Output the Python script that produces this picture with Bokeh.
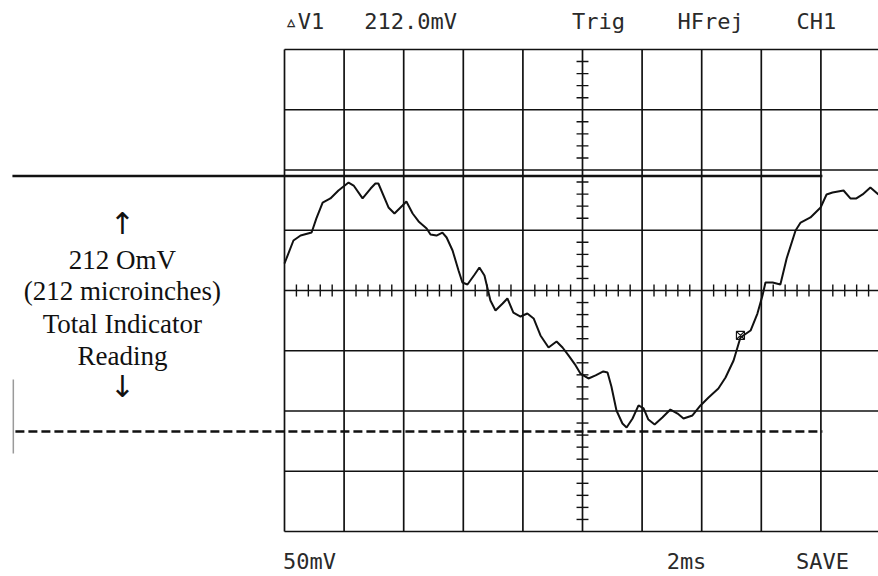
import numpy as np
from bokeh.plotting import figure
from bokeh.models import Range1d
from bokeh.core.properties import value
from bokeh.embed import file_html
from bokeh.resources import INLINE

# ---- data (time in ms relative to trigger, voltage in mV) ----
time_ms = [-10.0, -9.70, -9.46, -9.09, -8.93, -8.72, -8.46, -8.19, -7.85, -7.68,
           -7.38, -7.11, -6.95, -6.85, -6.51, -6.31, -6.04, -5.91, -5.70, -5.50,
           -5.23, -5.10, -4.90, -4.70, -4.56, -4.36, -4.16, -4.03, -3.86, -3.62,
           -3.46, -3.29, -3.09, -2.92, -2.68, -2.52, -2.32, -2.08, -1.85, -1.64,
           -1.41, -1.14, -0.87, -0.67, -0.47, -0.23, -0.07, 0.20, 0.44, 0.70,
           0.84, 0.97, 1.14, 1.34, 1.48, 1.68, 1.88, 2.05, 2.21, 2.42,
           2.68, 2.95, 3.19, 3.39, 3.69, 3.96, 4.23, 4.56, 4.80, 5.07,
           5.30, 5.64, 5.87, 6.04, 6.14, 6.38, 6.64, 6.85, 7.15, 7.32,
           7.65, 7.99, 8.19, 8.39, 8.76, 8.99, 9.19, 9.40, 9.66, 9.93]
volts_mv = [22.4, 41.5, 45.6, 48.1, 59.8, 73.0, 76.4, 83.0, 89.6, 87.1,
            76.4, 84.6, 88.8, 88.8, 68.9, 63.9, 70.5, 73.9, 63.9, 57.3,
            51.5, 46.5, 45.6, 48.1, 44.0, 33.2, 16.6, 6.6, 5.0, 13.3,
            19.1, 12.5, -8.3, -16.6, -10.8, -6.6, -18.3, -21.6, -19.1, -23.2,
            -37.3, -47.3, -42.3, -47.3, -53.9, -62.2, -68.9, -73.0, -70.5, -67.2,
            -68.0, -79.7, -99.6, -110.4, -113.7, -106.2, -95.4, -97.9, -107.1, -111.2,
            -105.4, -98.8, -102.1, -106.2, -103.7, -95.4, -88.8, -81.3, -72.2, -58.1,
            -39.0, -33.2, -19.1, -4.1, 6.6, 6.6, 5.0, 26.6, 49.8, 56.4,
            60.6, 68.9, 79.7, 81.3, 83.0, 76.4, 76.4, 79.7, 85.5, 79.7]

cursor_top_mv = 95
cursor_bottom_mv = -117
cursor_start_ms = -19.13
cursor_end_ms = 8.05
marker_ms = [5.30]
marker_mv = [-37.3]

volts_per_div = 50
ms_per_div = 2
h_divs = 10
v_divs = 8

top_labels = ["\u25b5V1", "212.0mV", "Trig", "HFrej", "CH1"]
top_label_ms = [-9.33, -5.77, 0.54, 4.30, 7.85]
bottom_labels = ["50mV", "2ms", "SAVE"]
bottom_label_ms = [-9.16, 3.49, 8.05]

note_lines = ["212 OmV", "(212 microinches)", "Total Indicator", "Reading"]
note_mv = [25.7, -0.8, -27.4, -54.0]
arrow_mv = [55.6, -79.7]
note_ms = -15.44

# ---- figure ----
PX_PER_MS = 29.8
PX_PER_MV = 60.25 / 50
p = figure(width=878, height=576, output_backend="svg", toolbar_location=None,
           x_range=Range1d(-582 / PX_PER_MS, (878 - 582) / PX_PER_MS),
           y_range=Range1d(-(576 - 290) / PX_PER_MV, 290 / PX_PER_MV),
           x_axis_type=None, y_axis_type=None, min_border=0)
p.grid.visible = False
p.outline_line_color = None
p.background_fill_color = "white"
p.border_fill_color = "white"

t_half = h_divs * ms_per_div / 2
v_half = v_divs * volts_per_div / 2

# graticule
vx = [i * ms_per_div - t_half for i in range(h_divs + 1)]
p.segment(x0=vx, y0=[-v_half] * len(vx), x1=vx, y1=[v_half] * len(vx),
          line_color="#111111", line_width=1.7)
hy = [j * volts_per_div - v_half for j in range(v_divs + 1)]
p.segment(x0=[-t_half] * len(hy), y0=hy, x1=[t_half] * len(hy), y1=hy,
          line_color="#111111", line_width=1.7)

# minor ticks on centre axes
tick_t = [k * ms_per_div / 5 - t_half for k in range(h_divs * 5 + 1) if k % 5]
p.segment(x0=tick_t, y0=[-5] * len(tick_t), x1=tick_t, y1=[5] * len(tick_t),
          line_color="#111111", line_width=1.4)
tick_v = [k * volts_per_div / 5 - v_half for k in range(v_divs * 5 + 1) if k % 5]
p.segment(x0=[-0.2] * len(tick_v), y0=tick_v, x1=[0.2] * len(tick_v), y1=tick_v,
          line_color="#111111", line_width=1.4)

# cursors
p.line([cursor_start_ms, cursor_end_ms], [cursor_top_mv, cursor_top_mv],
       line_color="#111111", line_width=2.4)
p.line([cursor_start_ms + 0.1, cursor_end_ms], [cursor_bottom_mv, cursor_bottom_mv],
       line_color="#111111", line_width=2.6, line_dash="9 4")

# faint left marker
p.line([-19.1, -19.1], [-73.9, -135.3], line_color="#9a9a9a", line_width=1.5)

# trace
p.line(time_ms, volts_mv, line_color="#111111", line_width=2.0)
p.scatter(marker_ms, marker_mv, marker="square_x", size=8, fill_color=None,
          line_color="#111111", line_width=1.2)

# scope texts
p.text(x=top_label_ms, y=[223.2] * len(top_labels), text=top_labels,
       text_font=value("DejaVu Sans Mono"), text_font_size="22px",
       text_color="#2a2a2a", text_baseline="alphabetic", text_align="center")
p.text(x=bottom_label_ms, y=[-224.9] * len(bottom_labels), text=bottom_labels,
       text_font=value("DejaVu Sans Mono"), text_font_size="22px",
       text_color="#2a2a2a", text_baseline="alphabetic", text_align="center")

# annotation
p.text(x=[note_ms] * len(note_lines), y=note_mv, text=note_lines,
       text_font=value("Liberation Serif"), text_font_size="27px",
       text_color="#111111", text_baseline="alphabetic", text_align="center")
p.text(x=[note_ms, note_ms], y=arrow_mv, text=["\u2191", "\u2193"],
       text_font=value("DejaVu Sans"), text_font_size="30px",
       text_color="#111111", text_baseline="middle", text_align="center")

open("out.html", "w").write(file_html(p, INLINE))
